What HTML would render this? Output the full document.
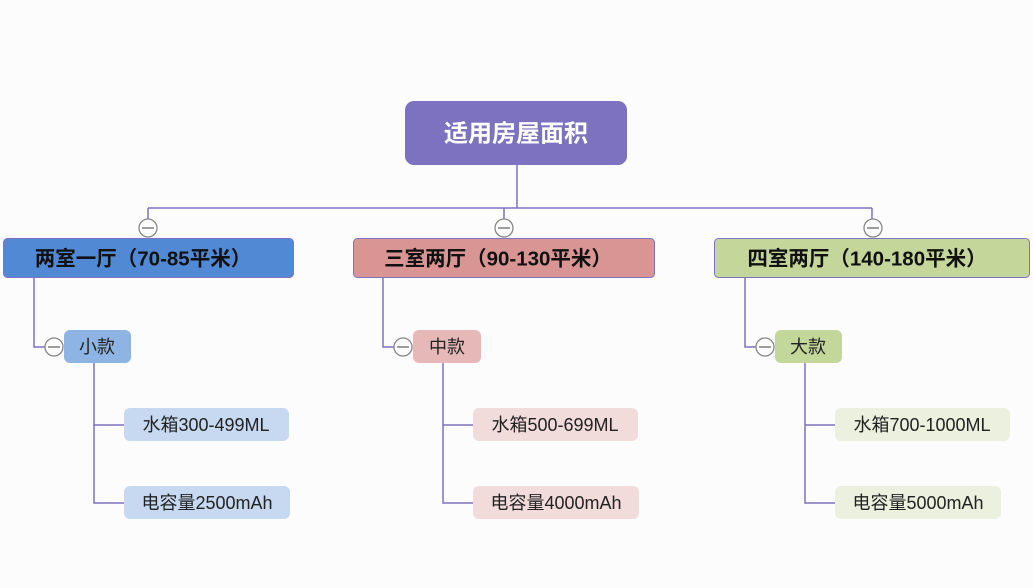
<!DOCTYPE html>
<html><head><meta charset="utf-8"><style>
html,body{margin:0;padding:0;background:#fcfcfc;}
svg{display:block;}
text{font-family:"Liberation Sans","Noto Sans CJK SC",sans-serif;dominant-baseline:central;text-anchor:middle;}
.b{font-weight:bold;font-size:20.5px;fill:#111;}
.n{font-size:18px;fill:#222;}
</style></head><body>
<svg width="1033" height="588" viewBox="0 0 1033 588">
<rect width="1033" height="588" fill="#fcfcfc"/>
<g stroke="#7e72c2" stroke-width="1.5" fill="none">
<path d="M517 165V208M148 208H872M148 208V219M504 208V219M872 208V219"/>
<path d="M34 278V347H45M94 363V503H124M94 425H124"/>
<path d="M383 278V347H394M443 363V503H473M443 425H473"/>
<path d="M745 278V347H756M805 363V503H835M805 425H835"/>
</g>
<rect x="405" y="101" width="222" height="64" rx="9" fill="#7d72c0"/>
<text x="516" y="134" style="font-weight:bold;font-size:24px;fill:#fff">适用房屋面积</text>
<rect x="3.5" y="238.5" width="290" height="39" rx="4" fill="#5189d4" stroke="#7e72c2"/>
<text class="b" x="143" y="259">两室一厅（70-85平米）</text>
<rect x="353.5" y="238.5" width="301" height="39" rx="4" fill="#d99594" stroke="#7e72c2"/>
<text class="b" x="498" y="259">三室两厅（90-130平米）</text>
<rect x="714.5" y="238.5" width="315" height="39" rx="4" fill="#c4d69a" stroke="#7e72c2"/>
<text class="b" x="867" y="259">四室两厅（140-180平米）</text>
<rect x="64" y="330" width="67" height="33" rx="6" fill="#8eb4e3"/><text class="n" x="97" y="347">小款</text>
<rect x="413" y="330" width="68" height="33" rx="6" fill="#e6b8b7"/><text class="n" x="447" y="347">中款</text>
<rect x="775" y="330" width="67" height="33" rx="6" fill="#c4d79b"/><text class="n" x="808" y="347">大款</text>
<rect x="124" y="408" width="165" height="33" rx="6" fill="#c6d9f1"/><text class="n" x="206" y="425">水箱300-499ML</text>
<rect x="124" y="486" width="166" height="33" rx="6" fill="#c6d9f1"/><text class="n" x="207" y="503">电容量2500mAh</text>
<rect x="473" y="408" width="165" height="33" rx="6" fill="#f2dcdb"/><text class="n" x="555" y="425">水箱500-699ML</text>
<rect x="473" y="486" width="166" height="33" rx="6" fill="#f2dcdb"/><text class="n" x="556" y="503">电容量4000mAh</text>
<rect x="835" y="408" width="175" height="33" rx="6" fill="#ebf1de"/><text class="n" x="922" y="425">水箱700-1000ML</text>
<rect x="835" y="486" width="166" height="33" rx="6" fill="#ebf1de"/><text class="n" x="918" y="503">电容量5000mAh</text>
<g fill="#fcfcfc" stroke="#888" stroke-width="1.3">
<circle cx="148" cy="228" r="9"/><circle cx="504" cy="228" r="9"/><circle cx="873" cy="228" r="9"/>
<circle cx="54" cy="347" r="9"/><circle cx="403" cy="347" r="9"/><circle cx="765" cy="347" r="9"/>
</g>
<g stroke="#666" stroke-width="1.3">
<path d="M142 228H154M498 228H510M867 228H879M48 347H60M397 347H409M759 347H771"/>
</g>
</svg>
</body></html>
